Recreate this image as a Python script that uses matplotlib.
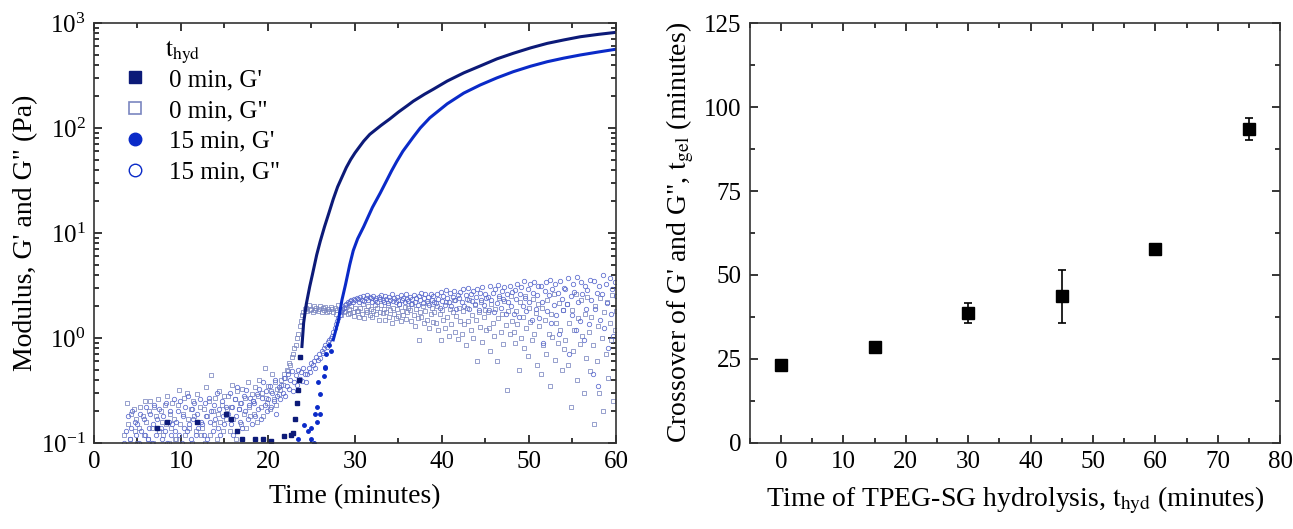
import numpy as np
import matplotlib.pyplot as plt
from matplotlib.lines import Line2D
from matplotlib.ticker import MultipleLocator

plt.rcParams['font.family'] = ['Liberation Serif', 'DejaVu Serif']
plt.rcParams['mathtext.fontset'] = 'stix'

# ---- left panel: rheology time sweeps ----
# G' (storage modulus), continuous part of the curves, Pa
gp0_t = [23.9, 24.1, 24.4, 24.8, 25.1, 25.6, 26.0, 26.5, 27.0, 27.5, 28.0,
         28.5, 29.0, 29.5, 30.0, 30.5, 31.0, 31.7, 33.0, 34.0, 35.0, 36.0,
         36.7, 38.0, 39.0, 40.6, 42.5, 44.4, 46.3, 48.2, 50.2, 52.1, 54.0,
         55.9, 58.0, 60.0]
gp0 = [0.83, 1.4, 2.1, 3.1, 4.0, 6.2, 8.3, 11.5, 15.5, 21, 27.5,
       34, 42, 50, 58, 66, 75, 87, 106, 122, 142, 163,
       180, 210, 234, 280, 335, 390, 455, 515, 580, 640, 690,
       740, 780, 815]
gp15_t = [27.5, 28.1, 28.5, 28.9, 29.4, 29.8, 30.3, 31.0, 31.5, 32.0, 32.9,
          33.5, 34.2, 34.8, 35.5, 36.7, 37.5, 38.6, 40.6, 42.5, 44.4, 46.3,
          48.2, 50.2, 52.1, 54.0, 55.9, 58.0, 60.0]
gp15 = [0.96, 1.48, 2.3, 3.2, 5.0, 6.8, 8.8, 11.5, 14.2, 17.5, 24,
        30, 39, 48, 60, 82, 100, 125, 170, 215, 257, 300,
        344, 388, 428, 463, 496, 530, 563]

# G' scattered points before gelation
gp0_low_t = [7.2, 8.4, 11.8, 15.2, 15.8, 16.4, 17.0, 18.5, 19.4, 20.3, 21.8,
             22.7, 22.9, 23.1, 23.3, 23.5, 23.6, 23.7]
gp0_low = [0.14, 0.16, 0.16, 0.19, 0.17, 0.13, 0.11, 0.11, 0.11, 0.105, 0.117,
           0.12, 0.125, 0.17, 0.24, 0.32, 0.40, 0.66]
gp15_low_t = [23.5, 24.1, 24.6, 24.9, 25.0, 25.3, 25.4, 25.6, 25.6, 25.8, 26.0,
              26.0, 26.4, 26.5, 26.6, 26.7, 27.0, 27.2]
gp15_low = [0.11, 0.148, 0.13, 0.11, 0.14, 0.10, 0.19, 0.16, 0.22, 0.38, 0.19,
            0.29, 0.43, 0.52, 0.53, 0.70, 0.85, 0.75]

# G'' (loss modulus), Pa, sampled evenly from 3.5 to 60 min (rows of ~3 min)
gpp0 = [
    0.12, 0.09, 0.24, 0.15, 0.11, 0.19, 0.08, 0.21, 0.13, 0.17, 0.10, 0.14, 0.22, 0.09, 0.18, 0.12, 0.25, 0.16, 0.11, 0.20,
    0.25, 0.14, 0.10, 0.22, 0.18, 0.09, 0.26, 0.13, 0.20, 0.16, 0.12, 0.23, 0.15, 0.28, 0.10, 0.19, 0.14, 0.24, 0.17, 0.11,
    0.11, 0.23, 0.32, 0.15, 0.09, 0.19, 0.27, 0.12, 0.30, 0.17, 0.14, 0.21, 0.10, 0.25, 0.18, 0.13, 0.29, 0.16, 0.22, 0.12,
    0.14, 0.21, 0.10, 0.34, 0.18, 0.25, 0.12, 0.44, 0.20, 0.15, 0.27, 0.11, 0.19, 0.31, 0.16, 0.23, 0.13, 0.28, 0.17, 0.21,
    0.28, 0.13, 0.22, 0.36, 0.17, 0.26, 0.11, 0.31, 0.21, 0.24, 0.15, 0.33, 0.19, 0.27, 0.14, 0.38, 0.22, 0.18, 0.29, 0.25,
    0.19, 0.34, 0.16, 0.28, 0.40, 0.22, 0.30, 0.18, 0.52, 0.27, 0.24, 0.35, 0.21, 0.31, 0.45, 0.26, 0.38, 0.23, 0.33, 0.29,
    0.32, 0.40, 0.36, 0.45, 0.42, 0.50, 0.48, 0.58, 0.55, 0.66, 0.70, 0.80, 0.85, 1.00, 1.10, 1.30, 1.45, 1.65, 1.75, 1.90,
    1.95, 1.80, 2.05, 1.85, 1.90, 1.75, 2.00, 1.85, 1.95, 1.80, 1.88, 2.02, 1.78, 1.92, 1.84, 1.98, 1.76, 1.90, 1.82, 1.96,
    1.90, 1.75, 1.95, 1.70, 1.85, 2.05, 1.80, 1.65, 1.90, 1.75, 1.82, 1.98, 1.68, 1.88, 1.72, 2.00, 1.78, 1.62, 1.92, 1.80,
    1.80, 1.60, 1.95, 1.70, 2.10, 1.55, 1.85, 1.75, 2.00, 1.65, 1.90, 1.58, 1.82, 2.05, 1.68, 1.92, 1.50, 1.78, 2.08, 1.72,
    1.90, 1.50, 1.75, 2.05, 1.60, 1.85, 1.40, 1.95, 1.70, 1.55, 1.88, 1.62, 2.12, 1.45, 1.80, 1.66, 1.98, 1.52, 1.76, 1.92,
    1.85, 1.45, 2.10, 1.65, 1.30, 1.90, 1.55, 0.95, 1.75, 1.60, 2.00, 1.38, 1.82, 1.50, 2.15, 1.25, 1.70, 1.95, 1.42, 1.78,
    1.40, 2.00, 1.20, 1.70, 0.95, 1.85, 1.50, 1.25, 2.20, 1.60, 1.05, 1.90, 1.35, 1.75, 2.30, 1.15, 1.62, 0.98, 1.95, 1.45,
    1.10, 1.80, 1.35, 0.85, 1.95, 1.45, 2.30, 1.20, 1.65, 1.00, 2.05, 1.50, 0.60, 1.75, 1.28, 2.20, 0.92, 1.58, 1.85, 1.18,
    1.75, 1.25, 0.75, 2.10, 1.40, 1.05, 1.90, 0.60, 1.55, 2.40, 1.15, 1.68, 0.88, 2.25, 1.32, 0.32, 1.82, 1.08, 2.50, 1.45,
    1.15, 0.90, 1.80, 1.35, 0.50, 2.20, 1.00, 1.60, 0.80, 2.50, 1.25, 0.68, 1.95, 1.42, 0.95, 2.35, 1.10, 1.72, 0.55, 2.10,
    1.30, 0.45, 1.95, 0.85, 1.50, 0.70, 2.30, 1.10, 0.35, 1.70, 1.02, 2.60, 0.62, 1.40, 0.90, 2.15, 1.20, 0.50, 1.85, 0.78,
    0.95, 2.10, 0.55, 1.40, 0.22, 1.85, 0.75, 1.20, 2.60, 0.40, 1.55, 0.88, 2.30, 1.05, 0.30, 1.70, 0.65, 2.45, 1.15, 0.48,
    1.60, 0.85, 0.15, 2.00, 0.60, 1.30, 0.30, 2.40, 1.00, 0.20, 1.75, 0.70, 2.20, 0.42, 1.40, 0.95, 2.55, 0.25, 1.20, 1.80,
]
gpp15 = [
    0.10, 0.13, 0.08, 0.18, 0.11, 0.14, 0.20, 0.09, 0.16, 0.12, 0.15, 0.10, 0.19, 0.13, 0.09, 0.17, 0.12, 0.22, 0.11, 0.14,
    0.19, 0.10, 0.15, 0.23, 0.12, 0.17, 0.09, 0.21, 0.14, 0.11, 0.18, 0.13, 0.24, 0.10, 0.16, 0.20, 0.12, 0.15, 0.26, 0.13,
    0.16, 0.20, 0.12, 0.25, 0.10, 0.18, 0.14, 0.22, 0.13, 0.28, 0.15, 0.11, 0.21, 0.17, 0.24, 0.12, 0.19, 0.14, 0.26, 0.16,
    0.15, 0.12, 0.24, 0.18, 0.11, 0.27, 0.16, 0.20, 0.13, 0.23, 0.17, 0.30, 0.14, 0.21, 0.12, 0.25, 0.18, 0.15, 0.22, 0.19,
    0.19, 0.30, 0.15, 0.22, 0.12, 0.26, 0.18, 0.34, 0.21, 0.16, 0.24, 0.14, 0.28, 0.20, 0.32, 0.17, 0.23, 0.27, 0.15, 0.25,
    0.24, 0.18, 0.29, 0.21, 0.33, 0.17, 0.27, 0.38, 0.23, 0.31, 0.20, 0.26, 0.35, 0.22, 0.30, 0.25, 0.40, 0.19, 0.28, 0.34,
    0.26, 0.36, 0.30, 0.42, 0.28, 0.35, 0.45, 0.33, 0.40, 0.48, 0.31, 0.38, 0.44, 0.36, 0.50, 0.41, 0.47, 0.39, 0.52, 0.45,
    0.38, 0.45, 0.52, 0.47, 0.58, 0.55, 0.60, 0.52, 0.66, 0.62, 0.70, 0.65, 0.75, 0.72, 0.80, 0.85, 0.82, 0.92, 0.95, 1.00,
    1.05, 1.15, 1.25, 1.35, 1.45, 1.55, 1.65, 1.75, 1.85, 1.95, 2.05, 2.10, 2.20, 2.15, 2.25, 2.30, 2.20, 2.35, 2.28, 2.40,
    2.35, 2.20, 2.45, 2.30, 2.50, 2.25, 2.40, 2.55, 2.30, 2.45, 2.38, 2.22, 2.52, 2.32, 2.42, 2.18, 2.48, 2.36, 2.58, 2.28,
    2.20, 2.50, 2.35, 2.15, 2.45, 2.30, 2.60, 2.25, 2.40, 2.20, 2.48, 2.32, 2.12, 2.55, 2.28, 2.42, 2.18, 2.62, 2.35, 2.24,
    2.45, 2.10, 2.35, 2.55, 2.20, 2.40, 2.05, 2.50, 2.30, 2.70, 2.15, 2.38, 2.60, 2.25, 2.48, 2.08, 2.65, 2.32, 2.52, 2.18,
    2.15, 2.60, 2.35, 1.95, 2.75, 2.25, 2.50, 2.05, 2.85, 2.40, 2.20, 2.68, 2.00, 2.45, 2.80, 2.30, 1.90, 2.58, 2.38, 2.72,
    2.20, 2.90, 2.00, 2.55, 2.35, 3.00, 1.90, 2.65, 2.25, 2.80, 2.10, 2.48, 2.95, 1.85, 2.70, 2.30, 3.05, 2.05, 2.60, 2.40,
    2.45, 1.85, 3.10, 2.30, 2.70, 1.75, 2.95, 2.15, 3.20, 2.50, 1.95, 2.80, 2.35, 3.05, 1.70, 2.60, 2.20, 3.15, 2.00, 2.75,
    1.70, 2.85, 2.35, 3.30, 1.60, 2.60, 3.05, 2.00, 3.50, 2.40, 1.80, 2.95, 2.20, 3.25, 1.50, 2.70, 3.40, 1.90, 2.55, 3.10,
    1.55, 3.15, 2.20, 0.90, 2.80, 3.40, 1.80, 2.55, 3.60, 1.40, 2.95, 2.05, 3.30, 1.65, 2.70, 1.10, 3.50, 2.35, 1.85, 3.00,
    2.95, 2.10, 3.70, 0.70, 2.50, 1.65, 3.25, 2.75, 1.20, 3.80, 2.20, 1.45, 3.45, 2.60, 0.95, 3.10, 1.90, 2.85, 1.35, 3.60,
    2.30, 0.45, 3.50, 1.90, 2.70, 0.35, 3.10, 1.50, 2.60, 4.00, 1.25, 3.30, 2.15, 0.80, 3.75, 1.70, 2.90, 1.05, 3.40, 2.50,
]
gpp_t_start, gpp_t_end = 3.5, 60.0

# ---- right panel: crossover time vs hydrolysis time ----
t_hyd = [0, 15, 30, 45, 60, 75]
t_gel = [23.3, 28.6, 38.8, 43.6, 57.7, 93.4]
t_gel_err = [0.8, 0.8, 3.0, 8.0, 1.3, 3.2]

c_dark = '#0c1a78'
c_blue = '#0a2ac8'
c_sq = '#7a86c0'
c_ci = '#5a6ace'

fig = plt.figure(figsize=(12.93, 5.29), dpi=100)
ax1 = fig.add_axes([0.0727, 0.1626, 0.4037, 0.7939])
ax2 = fig.add_axes([0.580, 0.1626, 0.410, 0.7939])

t0 = np.linspace(gpp_t_start, gpp_t_end, len(gpp0))
t15 = np.linspace(gpp_t_start, gpp_t_end, len(gpp15))

ax1.plot(t0, gpp0, 's', ms=3, mfc='none', mec=c_sq, mew=0.55, ls='none')
ax1.plot(t15, gpp15, 'o', ms=3.2, mfc='none', mec=c_ci, mew=0.55, ls='none')
ax1.plot(gp0_low_t, gp0_low, 's', ms=2.5, color=c_dark, ls='none')
ax1.plot(gp15_low_t, gp15_low, 'o', ms=2.5, color=c_blue, ls='none')
ax1.plot(gp0_t, gp0, '-', color=c_dark, lw=2.2)
ax1.plot(gp15_t, gp15, '-', color=c_blue, lw=2.2)

ax1.set_yscale('log')
ax1.set_xlim(0, 60)
ax1.set_ylim(0.1, 1000)
ax1.xaxis.set_major_locator(MultipleLocator(10))
ax1.xaxis.set_minor_locator(MultipleLocator(5))
ax1.set_xlabel('Time (minutes)', fontsize=20, labelpad=8)
ax1.set_ylabel('Modulus, G\' and G" (Pa)', fontsize=20, labelpad=2)

handles = [
    Line2D([], [], marker='s', ls='none', ms=9, color=c_dark),
    Line2D([], [], marker='s', ls='none', ms=9, mfc='none', mec=c_sq, mew=1.2),
    Line2D([], [], marker='o', ls='none', ms=9, color=c_blue),
    Line2D([], [], marker='o', ls='none', ms=9, mfc='none', mec=c_blue, mew=1.0),
]
labels = ["0 min, G'", '0 min, G"', "15 min, G'", '15 min, G"']
ax1.legend(handles, labels, loc='upper left', bbox_to_anchor=(0.012, 0.915),
           frameon=False, fontsize=18, handletextpad=0.35, labelspacing=0.33,
           borderaxespad=0)
ax1.text(0.136, 0.93, r'$\mathrm{t_{hyd}}$', transform=ax1.transAxes,
         fontsize=18, va='center', ha='left')

# error bars first, squares drawn on top
ax2.errorbar(t_hyd, t_gel, yerr=t_gel_err, fmt='none', ecolor='black',
             elinewidth=1.2, capsize=3.2, capthick=1.2, zorder=2)
ax2.plot(t_hyd, t_gel, 's', ms=9, color='black', ls='none', zorder=3)
ax2.set_xlim(-5, 80)
ax2.set_ylim(0, 125)
ax2.xaxis.set_major_locator(MultipleLocator(10))
ax2.xaxis.set_minor_locator(MultipleLocator(5))
ax2.yaxis.set_major_locator(MultipleLocator(25))
ax2.yaxis.set_minor_locator(MultipleLocator(12.5))
ax2.set_xlabel(r'Time of TPEG-SG hydrolysis, $\mathrm{t_{hyd}}$ (minutes)',
               fontsize=20, labelpad=8)
ax2.set_ylabel(r'Crossover of G' + "'" + r' and G", $\mathrm{t_{gel}}$ (minutes)',
               fontsize=20, labelpad=6)

for ax in (ax1, ax2):
    ax.tick_params(which='both', direction='in', top=True, right=True,
                   labelsize=18, width=1.1)
    ax.tick_params(which='major', length=6, pad=6)
    ax.tick_params(which='minor', length=3.5)
    for s in ax.spines.values():
        s.set_linewidth(1.2)
        s.set_color('#333333')

fig.savefig('out.png', dpi=100)
